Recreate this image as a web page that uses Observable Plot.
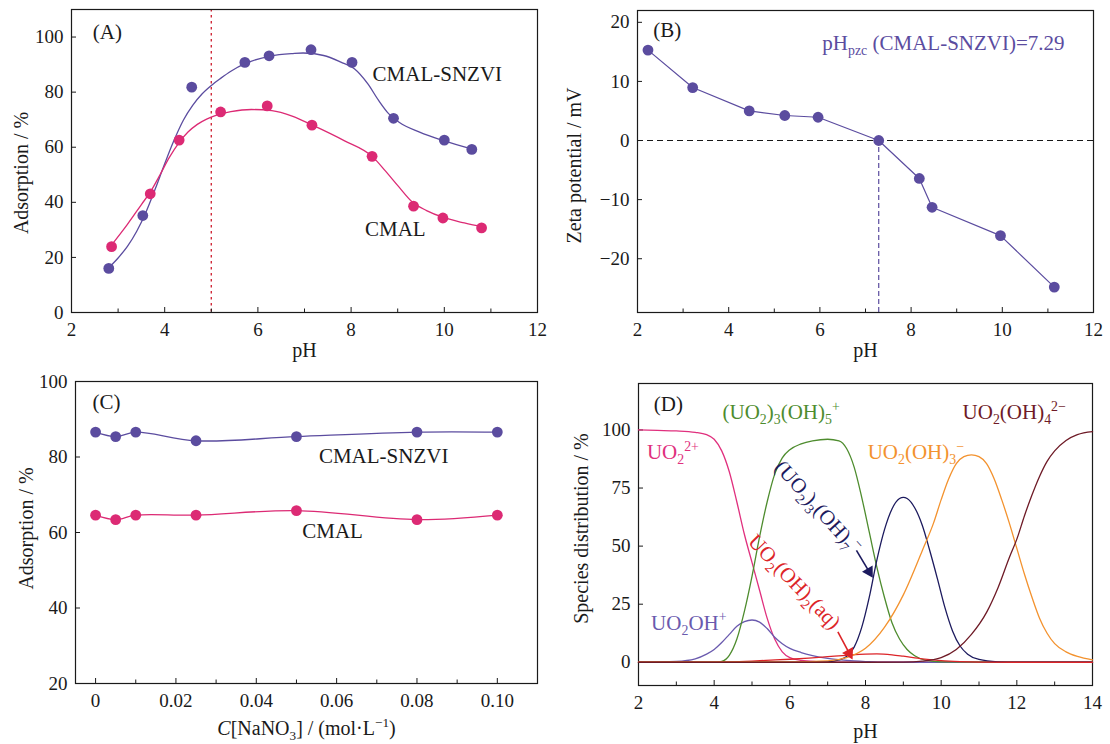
<!DOCTYPE html>
<html>
<head>
<meta charset="utf-8">
<script src="https://cdn.jsdelivr.net/npm/d3@7"></script>
<script src="https://cdn.jsdelivr.net/npm/@observablehq/plot@0.6"></script>
<style>
  html, body { margin: 0; padding: 0; background: #fff; }
  #wrap { position: relative; width: 1110px; height: 744px; background: #fff; overflow: hidden; }
  .pn { position: absolute; }
</style>
</head>
<body>
<div id="wrap">
  <div class="pn" id="pA" style="left:0;top:0"></div>
  <div class="pn" id="pB" style="left:555px;top:0"></div>
  <div class="pn" id="pC" style="left:0;top:370px"></div>
  <div class="pn" id="pD" style="left:555px;top:370px"></div>
</div>
<script>
// ---------------- Panel A: adsorption vs pH ----------------
const phA_snzvi  = [2.80, 3.53, 4.58, 5.72, 6.24, 7.14, 8.02, 8.91, 10.00, 10.59];
const adsA_snzvi = [16.0, 35.2, 81.8, 90.8, 93.2, 95.4, 90.8, 70.5, 62.6, 59.2];
const phA_cmal   = [2.86, 3.69, 4.31, 5.20, 6.20, 7.16, 8.45, 9.34, 9.97, 10.80];
const adsA_cmal  = [23.9, 43.1, 62.6, 72.8, 75.0, 68.0, 56.7, 38.6, 34.3, 30.7];
// fitted curves as drawn in the figure
const phFitA_snzvi  = [2.79, 3.0, 3.2, 3.4, 3.6, 3.8, 4.0, 4.2, 4.4, 4.6, 4.8, 5.0, 5.2, 5.42, 5.75, 6.27, 6.75, 6.97, 7.41, 7.78, 8.07, 8.36, 8.59, 8.81, 9.03, 9.47, 9.98, 10.65];
const adsFitA_snzvi = [16.1, 19.8, 24, 29.5, 36.5, 45, 54, 62.5, 69.8, 75.2, 79.3, 82.4, 85, 87.6, 90.5, 93.1, 94, 94.2, 93.3, 90.9, 88.5, 83, 77, 72.1, 69.1, 65.5, 62.4, 59.1];
const phFitA_cmal   = [2.85, 3.2, 3.5, 3.7, 3.9, 4.1, 4.3, 4.5, 4.7, 4.9, 5.1, 5.42, 5.86, 6.3, 6.75, 7.16, 7.85, 8.47, 8.73, 9.03, 9.32, 9.62, 9.98, 10.43, 10.87];
const adsFitA_cmal  = [24.3, 32, 39.2, 44, 50, 56.3, 61.5, 65.5, 68.3, 70.2, 71.6, 72.9, 73.7, 73.3, 71.2, 68.1, 62.4, 56.4, 51.5, 45.5, 40, 37, 34.5, 32.5, 30.9];
const phMarkA = [5];

// ---------------- Panel B: zeta potential ----------------
const phB   = [2.23, 3.21, 4.45, 5.23, 5.96, 7.29, 8.18, 8.46, 9.96, 11.14];
const zetaB = [15.3, 8.96, 5.01, 4.23, 3.94, 0, -6.42, -11.3, -16.1, -24.8];
const pHpzc = [7.29];
const zeroB = [0];

// ---------------- Panel C: ionic strength ----------------
const concC      = [0, 0.005, 0.01, 0.025, 0.05, 0.08, 0.10];
const adsC_snzvi = [86.6, 85.4, 86.6, 84.3, 85.4, 86.6, 86.6];
const adsC_cmal  = [64.6, 63.4, 64.6, 64.6, 65.8, 63.4, 64.6];

// ---------------- Panel D: U(VI) speciation ----------------
const phD_UO2   = [2, 2.5, 3, 3.5, 3.8, 4, 4.2, 4.4, 4.6, 4.8, 5, 5.2, 5.4, 5.6, 5.8, 6, 6.3, 6.7, 7.2, 8, 10, 14];
const pctD_UO2  = [100, 99.8, 99.6, 99, 98, 96, 91, 82, 69, 55, 43, 31, 19, 10, 4.5, 2, 0.8, 0.3, 0.1, 0, 0, 0];
const phD_UO2OH  = [2, 3, 3.5, 3.8, 4, 4.2, 4.4, 4.6, 4.8, 5, 5.2, 5.4, 5.6, 5.8, 6, 6.3, 6.6, 7, 7.5, 8, 8.5, 14];
const pctD_UO2OH = [0, 0.4, 1.5, 3.5, 5.5, 8.5, 12, 15.5, 17.5, 18.2, 17.3, 14.5, 10.8, 8, 6, 4.2, 2.9, 1.7, 0.8, 0.3, 0, 0];
const phD_tri5  = [2, 4, 4.2, 4.4, 4.6, 4.8, 5, 5.2, 5.4, 5.6, 5.8, 6, 6.3, 6.6, 7, 7.3, 7.5, 7.7, 7.9, 8.1, 8.3, 8.5, 8.7, 8.9, 9.1, 9.3, 9.6, 10, 14];
const pctD_tri5 = [0, 0, 0.4, 3, 10, 22, 37, 54, 69, 81, 88, 91.5, 94, 95.3, 96, 95.3, 92, 84, 71, 56, 41, 28, 17, 10, 5.5, 2.8, 0.8, 0.2, 0];
const phD_tri7  = [2, 6.5, 7, 7.3, 7.5, 7.7, 7.9, 8.1, 8.3, 8.5, 8.7, 8.9, 9, 9.1, 9.3, 9.5, 9.7, 9.9, 10.1, 10.3, 10.5, 10.7, 11, 11.5, 12, 14];
const pctD_tri7 = [0, 0, 0.2, 1, 2.5, 6.5, 15, 28, 44, 57, 66, 70.5, 71, 70.5, 66.5, 59, 48, 36, 23.5, 13.5, 7, 3.5, 1.2, 0.2, 0, 0];
const phD_aq    = [2, 4, 5, 5.5, 6, 6.5, 7, 7.5, 8, 8.3, 8.7, 9, 9.5, 10, 10.5, 11, 12, 14];
const pctD_aq   = [0, 0.1, 0.5, 0.9, 1.3, 1.8, 2.4, 3, 3.5, 3.6, 3.2, 2.6, 1.5, 0.7, 0.3, 0.1, 0, 0];
const phD_oh3   = [2, 6, 7, 7.5, 8, 8.5, 9, 9.5, 9.8, 10, 10.2, 10.4, 10.6, 10.8, 11, 11.2, 11.4, 11.6, 11.8, 12, 12.2, 12.4, 12.6, 12.8, 13, 13.3, 13.6, 14];
const pctD_oh3  = [0, 0.2, 0.6, 2, 6, 15, 29, 48, 60, 70, 79, 85.5, 88.5, 89.3, 88.5, 85.5, 79, 70, 60, 49, 38, 28, 19, 12.5, 8, 4.5, 2.5, 1];
const phD_oh4   = [2, 8, 9, 9.5, 10, 10.4, 10.8, 11.2, 11.5, 11.8, 12, 12.2, 12.4, 12.6, 12.8, 13, 13.3, 13.6, 14];
const pctD_oh4  = [0, 0, 0.1, 0.5, 2, 5.5, 12, 21.5, 32, 45, 53, 63, 72, 80, 86.5, 91, 95.5, 98, 99.3];

// tick values
const xTicksPH = [2, 4, 6, 8, 10, 12];
const xMinorPH = [3, 5, 7, 9, 11];
const yTicksA  = [0, 20, 40, 60, 80, 100];
const yTicksB  = [-20, -10, 0, 10, 20];
const xTicksC  = [0, 0.02, 0.04, 0.06, 0.08, 0.10];
const xMinorC  = [0.01, 0.03, 0.05, 0.07, 0.09];
const yTicksC  = [20, 40, 60, 80, 100];
const xTicksD  = [2, 4, 6, 8, 10, 12, 14];
const xMinorD  = [3, 5, 7, 9, 11, 13];
const yTicksD  = [0, 25, 50, 75, 100];

// ---------------- helpers ----------------
const FONT = "'Liberation Serif','Times New Roman',serif";
const INK = "#1a1a1a";
const PURPLE = "#5b4c9f", PINK = "#dc2a74";
const pts = (xs, ys) => xs.map((x, i) => ({x, y: ys[i]}));

function makePanel(c) {
  const iw = c.width - c.ml - c.mr, ih = c.height - c.mt - c.mb;
  const marks = [
    ...(c.under || []),
    Plot.frame({stroke: INK, strokeWidth: 1.2}),
    Plot.tickX(c.xMajor, {x: d => d, insetTop: ih - 5, stroke: INK}),
    c.xMinor ? Plot.tickX(c.xMinor, {x: d => d, insetTop: ih - 3.5, stroke: INK}) : null,
    Plot.tickY(c.yMajor, {y: d => d, insetRight: iw - 5, stroke: INK}),
    Plot.axisX(c.xMajor, {anchor: "bottom", tickSize: 0, tickPadding: 10, tickFormat: c.xFmt, fontSize: 19, fill: INK, label: null}),
    Plot.axisY(c.yMajor, {anchor: "left", tickSize: 0, tickPadding: 8, tickFormat: c.yFmt, fontSize: 19, fill: INK, label: null}),
    Plot.text([c.xLabel], {frameAnchor: "bottom", textAnchor: "middle", lineAnchor: "middle", dy: c.xLabelDy, text: d => d, fontSize: 20, fill: INK}),
    Plot.text([c.yLabel], {frameAnchor: "left", textAnchor: "middle", lineAnchor: "middle", dx: c.yLabelDx, dy: c.yLabelDy, rotate: -90, text: d => d, fontSize: 20, fill: INK}),
    ...c.marks
  ].filter(m => m != null);
  return Plot.plot({
    width: c.width, height: c.height,
    marginLeft: c.ml, marginRight: c.mr, marginTop: c.mt, marginBottom: c.mb,
    x: {domain: c.xDomain, label: null},
    y: {domain: c.yDomain, label: null},
    style: {fontFamily: FONT, fontSize: "19px", background: "transparent", color: INK, overflow: "visible"},
    marks
  });
}

// convert mini-markup (_{sub}, ^{sup}, *{italic}) into tspans
function richify(root) {
  d3.select(root).selectAll("text").each(function () {
    const el = this;
    const s = el.textContent;
    if (!/[_^*]\{/.test(s)) return;
    const fs = parseFloat(getComputedStyle(el).fontSize) || 19;
    const re = /([_^*])\{([^}]*)\}/g;
    const parts = [];
    let last = 0, m;
    while ((m = re.exec(s))) {
      if (m.index > last) parts.push(["", s.slice(last, m.index)]);
      parts.push([m[1], m[2]]);
      last = re.lastIndex;
    }
    if (last < s.length) parts.push(["", s.slice(last)]);
    while (el.firstChild) el.removeChild(el.firstChild);
    let cur = 0;
    for (const [k, t] of parts) {
      const target = k === "_" ? 0.26 * fs : k === "^" ? -0.4 * fs : 0;
      const ts = document.createElementNS("http://www.w3.org/2000/svg", "tspan");
      const d = target - cur;
      if (Math.abs(d) > 1e-6) ts.setAttribute("dy", d.toFixed(2));
      cur = target;
      if (k === "_" || k === "^") ts.setAttribute("font-size", (0.66 * fs).toFixed(2));
      if (k === "*") ts.setAttribute("font-style", "italic");
      ts.textContent = t;
      el.appendChild(ts);
    }
  });
}

// ---------------- Panel A ----------------
const labelsA = [
  {t: "(A)", x: 2.77, y: 101.8},
  {t: "CMAL-SNZVI", x: 9.85, y: 86.4},
  {t: "CMAL", x: 8.95, y: 30.3}
];
const plotA = makePanel({
  width: 555, height: 370, ml: 71, mr: 18, mt: 9, mb: 58,
  xDomain: [2, 12], yDomain: [0, 110],
  xMajor: xTicksPH, xMinor: xMinorPH, yMajor: yTicksA,
  xLabel: "pH", xLabelDy: 38, yLabel: "Adsorption / %", yLabelDx: -50, yLabelDy: 12,
  under: [Plot.ruleX(phMarkA, {x: d => d, stroke: "#d02a3a", strokeWidth: 1.4, strokeDasharray: "2.5,3.5"})],
  marks: [
    Plot.line(pts(phFitA_snzvi, adsFitA_snzvi), {x: "x", y: "y", stroke: PURPLE, strokeWidth: 1.3, curve: "monotone-x"}),
    Plot.line(pts(phFitA_cmal, adsFitA_cmal), {x: "x", y: "y", stroke: PINK, strokeWidth: 1.3, curve: "monotone-x"}),
    Plot.dot(pts(phA_snzvi, adsA_snzvi), {x: "x", y: "y", r: 5.4, fill: PURPLE}),
    Plot.dot(pts(phA_cmal, adsA_cmal), {x: "x", y: "y", r: 5.4, fill: PINK}),
    Plot.text(labelsA, {x: "x", y: "y", text: "t", fontSize: 21, fill: INK})
  ]
});
document.getElementById("pA").appendChild(plotA);

// ---------------- Panel B ----------------
const labelsB = [
  {t: "(B)", x: 2.65, y: 18.6, c: INK},
  {t: "pH_{pzc} (CMAL-SNZVI)=7.29", x: 8.71, y: 16.5, c: PURPLE}
];
const plotB = makePanel({
  width: 555, height: 370, ml: 82, mr: 17, mt: 10, mb: 58,
  xDomain: [2, 12], yDomain: [-29.1, 22],
  xMajor: xTicksPH, xMinor: xMinorPH, yMajor: yTicksB,
  xLabel: "pH", xLabelDy: 38, yLabel: "Zeta potential / mV", yLabelDx: -63, yLabelDy: 4,
  under: [
    Plot.ruleY(zeroB, {y: d => d, stroke: INK, strokeWidth: 1.2, strokeDasharray: "6,4"}),
    Plot.ruleX(pHpzc, {x: d => d, y1: -29.1, y2: 0, stroke: PURPLE, strokeWidth: 1.2, strokeDasharray: "5,3"})
  ],
  marks: [
    Plot.line(pts(phB, zetaB), {x: "x", y: "y", stroke: PURPLE, strokeWidth: 1.2}),
    Plot.dot(pts(phB, zetaB), {x: "x", y: "y", r: 5.4, fill: PURPLE}),
    Plot.text(labelsB, {x: "x", y: "y", text: "t", fill: "c", fontSize: 21})
  ]
});
document.getElementById("pB").appendChild(plotB);

// ---------------- Panel C ----------------
const labelsC = [
  {t: "(C)", x: 0.0027, y: 94.4},
  {t: "CMAL-SNZVI", x: 0.0717, y: 80.3},
  {t: "CMAL", x: 0.059, y: 60.2}
];
const plotC = makePanel({
  width: 555, height: 374, ml: 75, mr: 18, mt: 11, mb: 61,
  xDomain: [-0.005, 0.11], yDomain: [20, 100],
  xMajor: xTicksC, xMinor: xMinorC, yMajor: yTicksC,
  xFmt: d => d === 0 ? "0" : d.toFixed(2),
  xLabel: "*{C}[NaNO_{3}] / (mol·L^{−1})", xLabelDy: 45, yLabel: "Adsorption / %", yLabelDx: -49, yLabelDy: -4,
  marks: [
    Plot.line(pts(concC, adsC_snzvi), {x: "x", y: "y", stroke: PURPLE, strokeWidth: 1.3, curve: "catmull-rom"}),
    Plot.line(pts(concC, adsC_cmal), {x: "x", y: "y", stroke: PINK, strokeWidth: 1.3, curve: "catmull-rom"}),
    Plot.dot(pts(concC, adsC_snzvi), {x: "x", y: "y", r: 5.4, fill: PURPLE}),
    Plot.dot(pts(concC, adsC_cmal), {x: "x", y: "y", r: 5.4, fill: PINK}),
    Plot.text(labelsC, {x: "x", y: "y", text: "t", fontSize: 21, fill: INK})
  ]
});
document.getElementById("pC").appendChild(plotC);

// ---------------- Panel D ----------------
const species = [
  {ph: phD_UO2,   pct: pctD_UO2,   color: "#e0307e"},
  {ph: phD_UO2OH, pct: pctD_UO2OH, color: "#6a5aae"},
  {ph: phD_tri5,  pct: pctD_tri5,  color: "#4e8c2e"},
  {ph: phD_tri7,  pct: pctD_tri7,  color: "#1c1a5e"},
  {ph: phD_aq,    pct: pctD_aq,    color: "#dc2428"},
  {ph: phD_oh3,   pct: pctD_oh3,   color: "#f3922e"},
  {ph: phD_oh4,   pct: pctD_oh4,   color: "#6e1a26"}
];
const labelsD = [
  {t: "(D)", x: 2.79, y: 111.2, c: INK, r: 0},
  {t: "(UO_{2})_{3}(OH)_{5}^{+}", x: 5.77, y: 107.6, c: "#4e8c2e", r: 0},
  {t: "UO_{2}(OH)_{4}^{2−}", x: 11.93, y: 107.6, c: "#6e1a26", r: 0},
  {t: "UO_{2}^{2+}", x: 2.91, y: 90.4, c: "#e0307e", r: 0},
  {t: "UO_{2}(OH)_{3}^{−}", x: 9.33, y: 90.4, c: "#f3922e", r: 0},
  {t: "UO_{2}OH^{+}", x: 3.33, y: 17, c: "#6a5aae", r: 0},
  {t: "(UO_{2})_{3}(OH)_{7}^{−}", x: 6.74, y: 66.8, c: "#1c1a5e", r: 48},
  {t: "UO_{2}(OH)_{2}(aq)", x: 6.12, y: 34.6, c: "#dc2428", r: 46}
];
const arrowsD = [
  {x1: 7.76, y1: 48.2, hx: 8.096, hy: 38.98, rot: 149, c: "#1c1a5e"},
  {x1: 7.27, y1: 13.1, hx: 7.57, hy: 3.92, rot: 152, c: "#dc2428"}
];
const plotD = makePanel({
  width: 555, height: 374, ml: 83, mr: 18, mt: 13, mb: 59,
  xDomain: [2, 14], yDomain: [-10, 120],
  xMajor: xTicksD, xMinor: xMinorD, yMajor: yTicksD,
  xLabel: "pH", xLabelDy: 46, yLabel: "Species distribution / %", yLabelDx: -57, yLabelDy: -6,
  marks: [
    ...species.map(s => Plot.line(pts(s.ph, s.pct), {x: "x", y: "y", stroke: s.color, strokeWidth: 1.3, curve: "monotone-x"})),
    Plot.link(arrowsD, {x1: "x1", y1: "y1", x2: "hx", y2: "hy", stroke: "c", strokeWidth: 1.6}),
    Plot.dot(arrowsD, {x: "hx", y: "hy", symbol: "triangle", r: 4.6, fill: "c", stroke: "none", rotate: "rot"}),
    Plot.text(labelsD, {x: "x", y: "y", text: "t", fill: "c", rotate: "r", fontSize: 21})
  ]
});
document.getElementById("pD").appendChild(plotD);

richify(document.getElementById("wrap"));
</script>
</body>
</html>
